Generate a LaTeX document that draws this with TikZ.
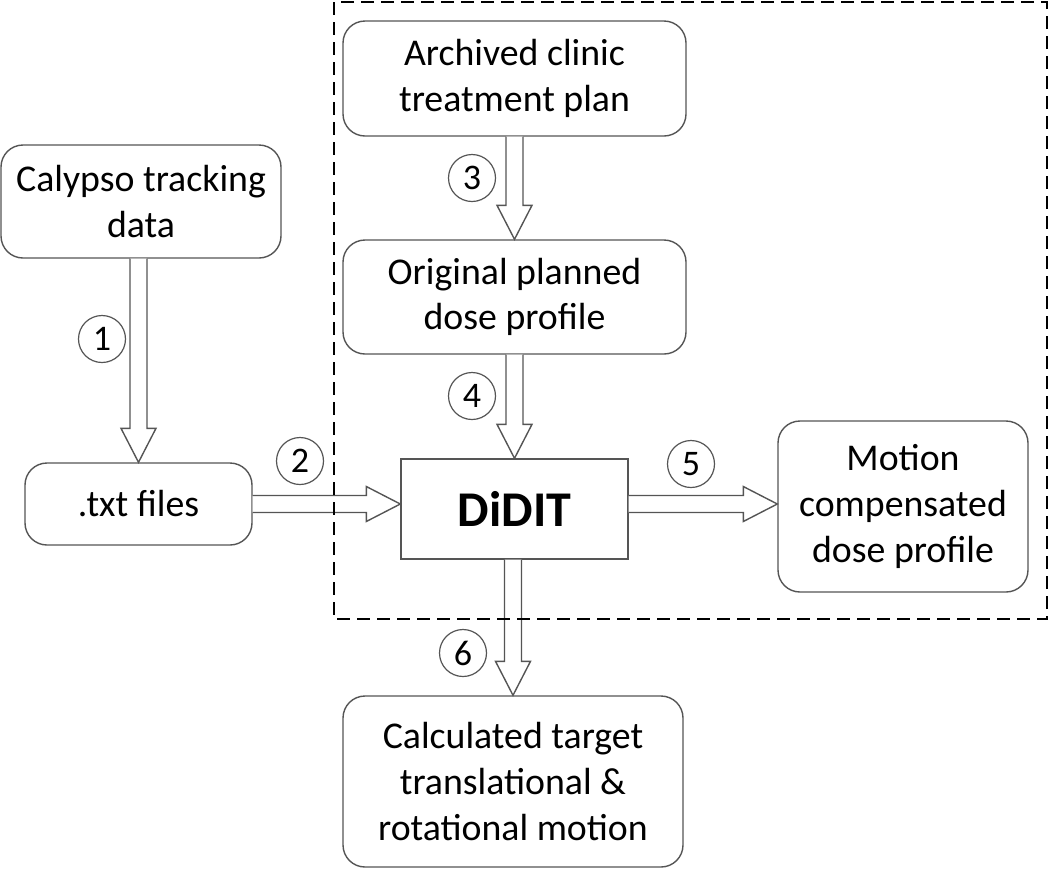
\documentclass[tikz,border=0pt]{standalone}
\usepackage{fontspec}
\setmainfont{Carlito}
\usetikzlibrary{calc}

\definecolor{boxgray}{RGB}{85,85,85}

\tikzset{
	box/.style = {draw = boxgray, line width = 0.7pt, rounded corners = 11pt, align = center, inner sep = 0pt, font = \fontsize{18.9}{22.8}\selectfont},
	num/.style = {draw = boxgray, line width = 0.6pt, circle, minimum size = 23.5pt, inner sep = 0pt, font = \fontsize{18}{20}\selectfont},
	blockarr/.style = {draw = boxgray, line width = 0.7pt, fill = white, line join = miter},
	frame/.style = {draw = black, line width = 1.4pt, dash pattern = on 6.5pt off 3.5pt}
}

\newcommand{\vblock}[2]{%
	\draw [blockarr] ($(#2 |- #1)+(-8.5,0)$) -- ($(#2)+(-8.5,-34)$) -- ($(#2)+(-17.5,-34)$) -- (#2) -- ($(#2)+(17.5,-34)$) -- ($(#2)+(8.5,-34)$) -- ($(#2 |- #1)+(8.5,0)$) ;}
\newcommand{\hblock}[2]{%
	\draw [blockarr] ($(#1)+(0,-8.5)$) -- ($(#2 |- #1)+(-34,-8.5)$) -- ($(#2 |- #1)+(-34,-17.5)$) -- (#2 |- #1) -- ($(#2 |- #1)+(-34,17.5)$) -- ($(#2 |- #1)+(-34,8.5)$) -- ($(#1)+(0,8.5)$) ;}

\begin{document}
\begin{tikzpicture}[x = 0.5pt, y = -0.5pt]
	\useasboundingbox (0, 0) rectangle (1050, 869) ;

	\node [box, minimum width = 140pt, minimum height = 56.5pt] (cal) at (141, 201.5) {Calypso tracking\\data} ;
	\node [box, minimum width = 113.5pt, minimum height = 41pt] (txt) at (138.5, 504) {.txt files} ;
	\node [box, minimum width = 171.5pt, minimum height = 57.5pt] (arc) at (514.5, 78.5) {Archived clinic\\treatment plan} ;
	\node [box, minimum width = 171.5pt, minimum height = 57pt] (org) at (514.5, 297) {Original planned\\dose profile} ;
	\node [box, sharp corners, minimum width = 113.5pt, minimum height = 50pt, font = \fontsize{25}{29}\selectfont\bfseries] (did) at (514.5, 509) {DiDIT} ;
	\node [box, minimum width = 125pt, minimum height = 85.5pt] (mot) at (903, 506.5) {Motion\\compensated\\dose profile} ;
	\node [box, minimum width = 170pt, minimum height = 85.5pt] (clc) at (513, 781.5) {Calculated target\\translational \&\\rotational motion} ;

	\coordinate (out5) at (did.east |- txt.east) ;

	\vblock{cal.south}{txt.north}
	\hblock{txt.east}{did.west}
	\vblock{arc.south}{org.north}
	\vblock{org.south}{did.north}
	\hblock{out5}{mot.west}
	\vblock{did.south}{clc.north}

	\node [num] (n1) at (102, 339) {1} ;
	\node [num] (n2) at (300, 461) {2} ;
	\node [num] (n3) at (472, 178) {3} ;
	\node [num] (n4) at (472, 396) {4} ;
	\node [num] (n5) at (691, 464) {5} ;
	\node [num] (n6) at (463, 653) {6} ;

	\draw [frame] (334, 2) rectangle (1047, 619) ;
\end{tikzpicture}
\end{document}
